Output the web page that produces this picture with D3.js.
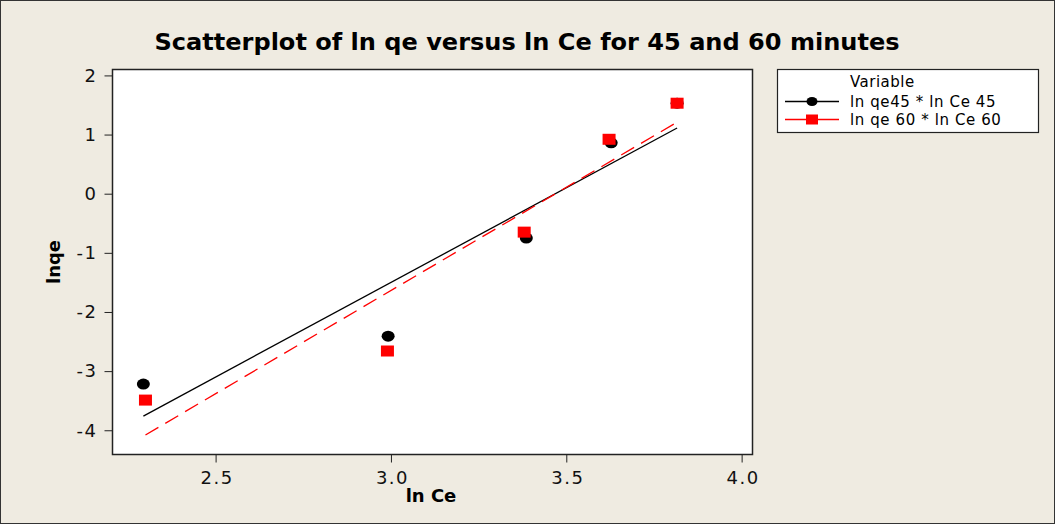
<!DOCTYPE html>
<html>
<head>
<meta charset="utf-8">
<script src="https://cdn.jsdelivr.net/npm/d3@7"></script>
<style>
  body { margin: 0; background: #efebe1; }
  text { font-family: "DejaVu Sans", Verdana, sans-serif; }
</style>
</head>
<body>
<svg width="1055" height="524"></svg>
<script>
// values
var lnCe45 = [2.294, 2.992, 3.386, 3.628, 3.816],
    lnqe45 = [-3.22, -2.41, -0.75, 0.86, 1.53];
var lnCe60 = [2.300, 2.990, 3.380, 3.622, 3.816],
    lnqe60 = [-3.49, -2.66, -0.65, 0.92, 1.53];
// fitted line ends, as drawn
var fit45 = [[2.294, -3.76], [3.816, 1.11]],
    fit60 = [[2.300, -4.08], [3.816, 1.21]];
var xTicks = [2.5, 3.0, 3.5, 4.0],
    yTicks = [2, 1, 0, -1, -2, -3, -4];
var seriesNames = ['ln qe45 * ln Ce 45', 'ln qe 60 * ln Ce 60'];

var svg = d3.select('svg');

// outer frame
svg.append('rect')
  .attr('x', 0.5).attr('y', 0.5)
  .attr('width', 1054).attr('height', 523)
  .attr('fill', '#efebe1')
  .attr('stroke', '#333');

var x = d3.scaleLinear().domain([2.206, 4.031]).range([112.5, 752.5]);
var y = d3.scaleLinear().domain([2.10, -4.41]).range([69.5, 454.5]);

svg.append('rect')
  .attr('x', 112.5).attr('y', 69.5)
  .attr('width', 640).attr('height', 385)
  .attr('fill', '#fff')
  .attr('stroke', '#222')
  .attr('stroke-width', 1.5);

// axes
var xAxis = svg.append('g')
  .attr('transform', 'translate(0,454.5)')
  .call(d3.axisBottom(x).tickValues(xTicks).tickFormat(d3.format('.1f')).tickSize(8).tickPadding(5));
var yAxis = svg.append('g')
  .attr('transform', 'translate(112.5,0)')
  .call(d3.axisLeft(y).tickValues(yTicks).tickFormat(function(d) { return d < 0 ? '-' + (-d) : d; }).tickSize(8).tickPadding(7));
[xAxis, yAxis].forEach(function(a) {
  a.select('.domain').remove();
  a.selectAll('line').attr('stroke', '#222');
  a.selectAll('text').attr('font-size', 18).attr('fill', '#111')
    .attr('letter-spacing', 1.5)
    .attr('font-family', '"DejaVu Sans", Verdana, sans-serif');
});
xAxis.selectAll('text').attr('dy', '0.9em').attr('dx', 1);

// title and axis labels
svg.append('text')
  .attr('x', 527).attr('y', 50)
  .attr('text-anchor', 'middle')
  .attr('font-size', 22.5).attr('font-weight', 'bold')
  .attr('textLength', 745).attr('lengthAdjust', 'spacingAndGlyphs')
  .text('Scatterplot of ln qe versus ln Ce for 45 and 60 minutes');

svg.append('text')
  .attr('x', 431).attr('y', 502)
  .attr('text-anchor', 'middle')
  .attr('font-size', 18).attr('font-weight', 'bold')
  .text('ln Ce');

svg.append('text')
  .attr('transform', 'translate(60,262) rotate(-90)')
  .attr('text-anchor', 'middle')
  .attr('font-size', 18).attr('font-weight', 'bold')
  .text('lnqe');

// fit lines
var line = d3.line().x(function(d) { return x(d[0]); }).y(function(d) { return y(d[1]); });
svg.append('path')
  .attr('d', line(fit45))
  .attr('stroke', '#000').attr('stroke-width', 1.3).attr('fill', 'none');
svg.append('path')
  .attr('d', line(fit60))
  .attr('stroke', '#f00').attr('stroke-width', 1.3).attr('fill', 'none')
  .attr('stroke-dasharray', '15,8');

// points
svg.selectAll('.c45')
  .data(d3.zip(lnCe45, lnqe45))
  .enter().append('ellipse')
  .attr('class', 'c45')
  .attr('cx', function(d) { return x(d[0]); })
  .attr('cy', function(d) { return y(d[1]); })
  .attr('rx', 6.5).attr('ry', 5.5)
  .attr('fill', '#000');

svg.selectAll('.s60')
  .data(d3.zip(lnCe60, lnqe60))
  .enter().append('rect')
  .attr('class', 's60')
  .attr('x', function(d) { return x(d[0]) - 6.5; })
  .attr('y', function(d) { return y(d[1]) - 5.5; })
  .attr('width', 13).attr('height', 11)
  .attr('fill', '#f00');

// legend
var lg = svg.append('g');
lg.append('rect')
  .attr('x', 777.5).attr('y', 69.5)
  .attr('width', 261).attr('height', 63)
  .attr('fill', '#fff').attr('stroke', '#222').attr('stroke-width', 1.2);
lg.append('text')
  .attr('x', 850).attr('y', 87)
  .attr('font-size', 15).attr('letter-spacing', 0.5).text('Variable');
var rows = [101.5, 119.5];
lg.selectAll('.lgline')
  .data(rows)
  .enter().append('line')
  .attr('x1', 785).attr('x2', 839)
  .attr('y1', function(d) { return d; }).attr('y2', function(d) { return d; })
  .attr('stroke', function(d, i) { return i ? '#f00' : '#000'; })
  .attr('stroke-width', 1.3);
lg.append('ellipse')
  .attr('cx', 812).attr('cy', rows[0]).attr('rx', 5.5).attr('ry', 4.5).attr('fill', '#000');
lg.append('rect')
  .attr('x', 806).attr('y', rows[1] - 5).attr('width', 12).attr('height', 10).attr('fill', '#f00');
lg.selectAll('.lgtext')
  .data(seriesNames)
  .enter().append('text')
  .attr('x', 850)
  .attr('y', function(d, i) { return rows[i] + 5; })
  .attr('font-size', 15).attr('letter-spacing', 0.6)
  .text(function(d) { return d; });
</script>
</body>
</html>
